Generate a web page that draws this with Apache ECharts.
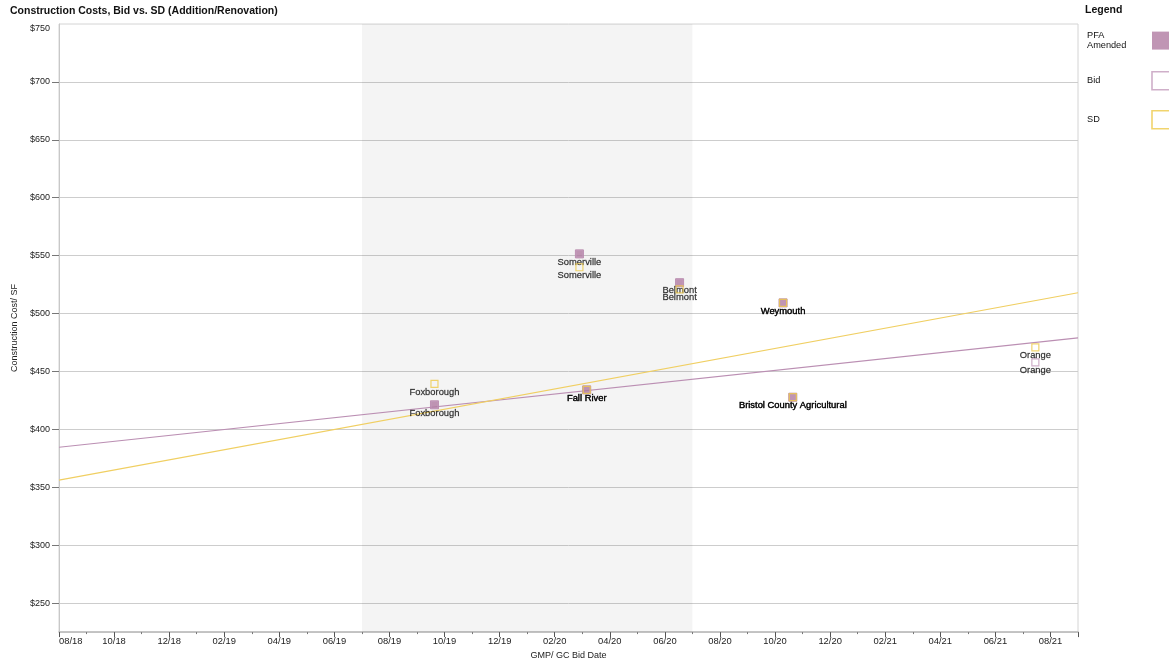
<!DOCTYPE html>
<html>
<head>
<meta charset="utf-8">
<title>Construction Costs, Bid vs. SD</title>
<script src="https://cdn.jsdelivr.net/npm/echarts@6/dist/echarts.min.js"></script>
<style>
  body { margin: 0; background: #fff; }
  #main { width: 1169px; height: 665px; }
</style>
</head>
<body>
<div id="main"></div>
<script>
// projects, bid dates and $/SF
var projects = ['Foxborough', 'Somerville', 'Fall River', 'Belmont', 'Weymouth', 'Bristol County Agricultural', 'Orange'];
var bidDates = ['2019-09-20', '2020-02-27', '2020-03-06', '2020-06-17', '2020-10-10', '2020-10-21', '2021-07-15'];
var pfaAmended = [421.2, 551.5, 434.1, 526.6, 509.2, 427.8, null];
var bidCost = [421.2, 551.5, 434.1, 526.6, 509.2, 427.8, 457.9];
var sdCost = [439.3, 540.0, 434.1, 520.9, 509.2, 427.8, 470.8];

// trend lines (end points at the axis edges)
var trendDates = ['2018-08-01', '2021-09-01'];
var bidTrend = [384.6, 479.1];
var sdTrend = [356.2, 518.0];

// shaded period
var bandDates = ['2019-07-01', '2020-07-01'];

var yLabels = [250, 300, 350, 400, 450, 500, 550, 600, 650, 700, 750];

var PURPLE = '#b07aa1';
var YELLOW = '#edc948';
var FONT = "'Liberation Sans', Arial, sans-serif";

// months since 08/2018 (fractional)
function toMonth(s) {
  var p = s.split('-').map(Number);
  var dim = new Date(p[0], p[1], 0).getDate();
  return (p[0] - 2018) * 12 + (p[1] - 8) + (p[2] - 1) / dim;
}

function points(vals) {
  var out = [];
  for (var i = 0; i < projects.length; i++) {
    if (vals[i] == null) continue;
    out.push({ name: projects[i], value: [toMonth(bidDates[i]), vals[i]] });
  }
  return out;
}

function trend(vals) {
  return trendDates.map(function (d, i) { return [toMonth(d), vals[i]]; });
}

var pointLabel = {
  show: true,
  position: 'bottom',
  distance: -0.5,
  formatter: '{b}',
  color: '#000',
  fontSize: 9.4,
  fontFamily: FONT,
  textBorderColor: 'rgba(0,0,0,0.6)',
  textBorderWidth: 0.35
};

function legendBox(name, top, lines) {
  return {
    data: [name],
    left: 1087,
    top: top,
    orient: 'vertical',
    align: 'right',
    padding: 0,
    itemWidth: 18,
    itemHeight: 18,
    selectedMode: false,
    formatter: function (n) {
      return lines.map(function (l) { return '{a|' + l + '}'; }).join('\n');
    },
    textStyle: {
      rich: { a: { width: 60, align: 'left', fontSize: 9.2, lineHeight: 10.2, color: '#111', fontFamily: FONT } }
    },
    itemStyle: { borderWidth: name === 'PFA Amended' ? 0 : 1.6 }
  };
}

var chart = echarts.init(document.getElementById('main'));

chart.setOption({
  animation: false,
  textStyle: { fontFamily: FONT },
  title: [
    {
      text: 'Construction Costs, Bid vs. SD (Addition/Renovation)',
      left: 10, top: 6, padding: 0,
      textStyle: { fontSize: 10.5, fontWeight: 'bold', color: '#111', fontFamily: FONT }
    },
    {
      text: 'Legend',
      left: 1085, top: 5, padding: 0,
      textStyle: { fontSize: 10.5, fontWeight: 'bold', color: '#111', fontFamily: FONT }
    }
  ],
  legend: [
    legendBox('PFA Amended', 31, ['PFA', 'Amended']),
    legendBox('Bid', 71, ['Bid']),
    legendBox('SD', 110, ['SD'])
  ],
  grid: {
    left: 59, right: 91, top: 24, bottom: 30,
    show: true, borderColor: '#d4d4d4', borderWidth: 1, backgroundColor: '#fff'
  },
  xAxis: {
    type: 'value',
    min: 0,
    max: 37,
    interval: 2,
    name: 'GMP/ GC Bid Date',
    nameLocation: 'middle',
    nameGap: 16,
    nameTextStyle: { fontSize: 9, color: '#222', fontFamily: FONT },
    axisLine: { show: true, lineStyle: { color: '#b8b8b8', width: 1.5 } },
    axisTick: { show: true, length: 5, lineStyle: { color: '#555' } },
    minorTick: { show: true, splitNumber: 2, length: 2, lineStyle: { color: '#777' } },
    splitLine: { show: false },
    axisLabel: {
      margin: 5,
      fontSize: 9.4,
      color: '#222',
      fontFamily: FONT,
      alignMinLabel: 'left',
      showMaxLabel: false,
      formatter: function (v) {
        var t = 7 + v;
        var mm = (t % 12) + 1;
        var yy = 18 + Math.floor(t / 12);
        return (mm < 10 ? '0' : '') + mm + '/' + yy;
      }
    }
  },
  yAxis: {
    type: 'value',
    min: 225,
    max: 750,
    splitNumber: 11,
    name: 'Construction Cost/ SF',
    nameLocation: 'middle',
    nameGap: 37,
    nameTextStyle: { fontSize: 9, color: '#222', fontFamily: FONT },
    axisLine: { show: true, lineStyle: { color: '#c8c8c8' } },
    axisTick: { show: true, length: 7, customValues: yLabels.slice(0, -1), lineStyle: { color: '#777' } },
    splitLine: { show: true, lineStyle: { color: '#cdcdcd' } },
    axisLabel: {
      customValues: yLabels,
      margin: 9,
      fontSize: 9,
      color: '#222',
      fontFamily: FONT,
      formatter: function (v) {
        // top label sits just under the plot edge
        return v === 750 ? '{t|$' + v + '}' : '$' + v;
      },
      rich: { t: { fontSize: 9, color: '#222', fontFamily: FONT, padding: [10, 0, 0, 0] } }
    }
  },
  series: [
    {
      name: 'Bid trend',
      type: 'line',
      data: trend(bidTrend),
      symbol: 'none',
      silent: true,
      lineStyle: { color: '#bb8fb3', width: 1.2 },
      markArea: {
        silent: true,
        itemStyle: { color: 'rgba(0,0,0,0.045)' },
        data: [[{ xAxis: toMonth(bandDates[0]) }, { xAxis: toMonth(bandDates[1]) }]]
      },
      z: 1
    },
    {
      name: 'SD trend',
      type: 'line',
      data: trend(sdTrend),
      symbol: 'none',
      silent: true,
      lineStyle: { color: '#f0cf62', width: 1.2 },
      z: 1
    },
    {
      name: 'PFA Amended',
      type: 'scatter',
      data: points(pfaAmended),
      symbol: 'rect',
      symbolSize: 8,
      itemStyle: { color: PURPLE, borderColor: PURPLE },
      z: 3
    },
    {
      name: 'Bid',
      type: 'scatter',
      data: points(bidCost),
      symbol: 'rect',
      symbolSize: 7,
      itemStyle: { color: 'rgba(255,255,255,0)', borderColor: '#c39bbb', borderWidth: 1.2 },
      label: pointLabel,
      z: 4
    },
    {
      name: 'SD',
      type: 'scatter',
      data: points(sdCost),
      symbol: 'rect',
      symbolSize: 7,
      itemStyle: { color: 'rgba(255,255,255,0)', borderColor: YELLOW, borderWidth: 1.2 },
      label: pointLabel,
      z: 5
    }
  ]
});
</script>
</body>
</html>
